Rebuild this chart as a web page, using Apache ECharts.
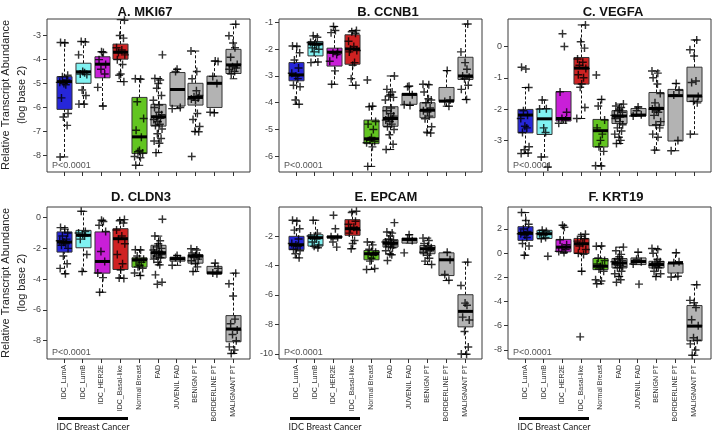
<!DOCTYPE html>
<html><head><meta charset="utf-8">
<script src="https://cdn.jsdelivr.net/npm/echarts@6/dist/echarts.min.js"></script>
<style>html,body{margin:0;padding:0;background:#fff}#c{width:713px;height:432px}</style>
</head><body><div id="c"></div>
<script>
// ---------- data ----------
const categories = ['IDC_LumA','IDC_LumB','IDC_HER2E','IDC_Basal-like','Normal Breast','FAD','JUVENIL FAD','BENIGN PT','BORDERLINE PT','MALIGNANT PT'];
const boxColors = ['#2626d9','#80f2f2','#c91fd8','#cf2222','#62c520','#b3b3b3','#b3b3b3','#b3b3b3','#b3b3b3','#b3b3b3'];
const panelTitles = ['A. MKI67','B. CCNB1','C. VEGFA','D. CLDN3','E. EPCAM','F. KRT19'];
const pValues = ['P<0.0001','P<0.0001','P<0.0001','P<0.0001','P<0.0001','P<0.0001'];
const yAxisTitle = ['Relative Transcript Abundance','(log base 2)'];
const groupLabel = 'IDC Breast Cancer';

// box stats: [lower whisker, Q1, median, Q3, upper whisker]
const mki67Box = [[-8.07,-6.08,-4.92,-4.71,-3.28],[-5.86,-4.99,-4.51,-4.15,-3.24],[-5.94,-4.76,-4.19,-3.88,-3.67],[-4.92,-3.98,-3.69,-3.35,-2.33],[-8.42,-7.93,-7.23,-5.58,-4.8],[-7.89,-6.78,-6.39,-5.87,-4.79],[-6.05,-5.94,-5.25,-4.54,-4.4],[-7.02,-5.9,-5.58,-4.99,-3.64],[-6.22,-6.0,-4.99,-4.69,-4.06],[-4.8,-4.58,-4.22,-3.57,-2.52]];
const mki67Points = [
 [-3.28,-3.3,-4.65,-4.72,-4.85,-4.95,-5.0,-5.05,-5.6,-6.25,-6.4,-6.75,-8.07],
 [-3.24,-3.26,-3.8,-4.5,-4.55,-4.6,-4.62,-5.27,-5.5,-5.86,-5.86],
 [-3.67,-3.7,-4.0,-4.2,-4.4,-4.6,-5.16,-5.94],
 [-2.35,-2.99,-3.1,-3.5,-3.6,-3.7,-3.8,-4.0,-4.2,-4.6,-4.65,-4.92],
 [-4.8,-4.82,-5.76,-6.46,-6.95,-7.25,-7.8,-7.85,-7.9,-8.05,-8.1,-8.42],
 [-3.8,-4.79,-4.85,-5.0,-5.2,-5.5,-5.7,-5.9,-6.0,-6.2,-6.3,-6.4,-6.45,-6.5,-6.6,-6.7,-6.75,-6.9,-7.1,-7.3,-7.4,-7.5,-7.89],
 [-4.4,-4.5,-6.0,-6.05],
 [-3.64,-4.5,-4.8,-5.3,-5.5,-5.55,-5.6,-5.65,-5.7,-6.25,-6.5,-6.8,-7.0,-7.02,-8.05],
 [-4.06,-4.08,-4.7,-5.0,-6.2,-6.22],
 [-2.52,-3.0,-3.3,-3.5,-3.9,-4.2,-4.3,-4.35,-4.4,-4.5,-4.6]];
const mki67Ticks = [-8,-7,-6,-5,-4,-3];

const ccnb1Box = [[-4.06,-3.18,-2.96,-2.5,-1.88],[-2.48,-2.25,-1.8,-1.71,-1.5],[-3.31,-2.63,-2.11,-1.96,-1.15],[-3.35,-2.56,-1.99,-1.46,-1.3],[-6.38,-5.53,-5.35,-4.65,-4.13],[-5.75,-4.88,-4.59,-4.15,-3.0],[-4.1,-4.06,-3.69,-3.65,-3.38],[-5.13,-4.56,-4.28,-4.0,-3.31],[-4.13,-3.96,-3.94,-3.43,-2.8],[-3.88,-3.13,-3.0,-2.3,-1.06]];
const ccnb1Points = [
 [-1.88,-1.9,-2.13,-2.4,-2.7,-2.9,-3.0,-3.1,-3.35,-3.4,-3.9,-4.06],
 [-1.5,-1.55,-1.75,-1.8,-1.85,-1.95,-2.0,-2.1,-2.48,-2.5],
 [-1.15,-1.3,-1.38,-2.1,-2.15,-2.2,-2.45,-2.81,-3.31],
 [-1.3,-1.35,-1.4,-1.7,-1.9,-2.0,-2.05,-2.1,-2.5,-2.6,-3.1,-3.35],
 [-3.15,-4.13,-4.15,-4.7,-4.8,-5.0,-5.3,-5.4,-5.45,-5.5,-5.65,-6.38],
 [-3.0,-3.5,-3.6,-3.7,-3.75,-3.8,-3.9,-4.2,-4.3,-4.4,-4.5,-4.55,-4.6,-4.65,-4.7,-4.8,-4.9,-5.0,-5.2,-5.55,-5.75],
 [-3.38,-3.4,-3.7,-4.08,-4.1],
 [-3.31,-3.33,-3.6,-3.85,-3.9,-4.0,-4.2,-4.3,-4.35,-4.5,-4.6,-4.9,-5.1,-5.13],
 [-2.8,-3.9,-3.95,-4.13],
 [-1.06,-2.1,-2.5,-2.75,-3.0,-3.05,-3.1,-3.35,-3.5,-3.88]];
const ccnb1Ticks = [-6,-5,-4,-3,-2,-1];

const vegfaBox = [[-3.42,-2.76,-2.19,-2.01,-1.31],[-3.53,-2.81,-2.31,-1.99,-1.71],[-2.45,-2.38,-2.3,-1.44,-1.44],[-2.3,-1.2,-0.69,-0.35,0.69],[-3.81,-3.21,-2.69,-2.33,-1.69],[-3.1,-2.46,-2.22,-2.05,-1.84],[-2.22,-2.22,-2.19,-1.98,-1.93],[-3.31,-2.53,-1.98,-1.47,-0.78],[-3.33,-3.02,-1.57,-1.37,-1.18],[-2.8,-1.76,-1.58,-0.66,0.21]];
const vegfaPoints = [
 [-0.66,-0.72,-1.31,-2.05,-2.2,-2.3,-2.55,-2.6,-2.75,-3.2,-3.3,-3.4,-3.42],
 [-1.71,-1.99,-2.0,-2.6,-2.75,-3.53,-3.85],
 [0.41,0.0,-1.45,-2.1,-2.3,-2.35,-2.45],
 [0.69,0.15,-0.05,-0.4,-0.5,-0.6,-0.7,-0.9,-1.0,-1.2,-1.3,-1.95,-2.3],
 [-0.91,-1.69,-1.9,-2.35,-2.6,-2.8,-3.0,-3.2,-3.35,-3.81,-3.82],
 [-1.84,-1.9,-1.95,-2.0,-2.05,-2.1,-2.2,-2.25,-2.3,-2.4,-2.5,-2.6,-2.7,-2.8,-2.9,-3.0,-3.1],
 [-1.93,-2.05,-2.18,-2.22],
 [-0.78,-0.85,-1.0,-1.2,-1.5,-1.8,-1.95,-2.0,-2.05,-2.1,-2.2,-2.4,-2.5,-2.6,-2.8,-2.9,-3.31],
 [-1.18,-1.4,-1.55,-3.0,-3.33],
 [0.21,-0.1,-0.3,-1.1,-1.15,-1.6,-1.75,-1.8,-2.8]];
const vegfaTicks = [-3,-2,-1,0];

const cldn3Box = [[-3.65,-2.24,-1.59,-0.93,-0.65],[-3.5,-1.96,-1.15,-0.83,0.41],[-4.85,-3.61,-2.85,-0.93,-0.17],[-3.93,-3.37,-1.37,-0.72,-0.13],[-3.76,-3.22,-2.74,-2.61,-2.09],[-3.07,-2.63,-2.28,-1.8,-1.2],[-3.1,-2.83,-2.67,-2.57,-2.46],[-3.5,-2.96,-2.5,-2.41,-2.02],[-3.65,-3.65,-3.59,-3.17,-2.96],[-8.83,-8.07,-7.24,-6.37,-3.61]];
const cldn3Points = [
 [-0.65,-0.75,-1.0,-1.2,-1.4,-1.5,-1.6,-1.7,-1.8,-2.0,-2.5,-3.0,-3.3,-3.65],
 [0.41,-0.9,-1.0,-1.1,-1.2,-1.4,-2.4,-3.5],
 [-0.17,-0.25,-0.5,-0.9,-2.2,-2.85,-3.6,-3.9,-4.85],
 [-0.13,-0.2,-0.35,-0.8,-1.2,-1.4,-1.7,-2.4,-3.0,-3.4,-3.93,-3.95],
 [-2.09,-2.1,-2.5,-2.7,-2.8,-2.9,-3.1,-3.2,-3.3,-3.6,-3.76],
 [-0.11,-1.2,-1.5,-1.7,-1.9,-2.0,-2.1,-2.2,-2.3,-2.35,-2.4,-2.5,-2.6,-2.7,-2.9,-3.07,-3.72,-4.2,-4.33],
 [-2.46,-2.6,-2.7,-3.1],
 [-2.02,-2.1,-2.3,-2.4,-2.5,-2.6,-2.7,-2.8,-3.0,-3.2,-3.5],
 [-2.96,-3.3,-3.6,-3.65],
 [-3.61,-4.3,-5.1,-6.6,-6.9,-7.3,-7.6,-8.0,-8.4,-8.6,-8.83]];
const cldn3Ticks = [-8,-6,-4,-2,0];

const epcamBox = [[-3.48,-2.93,-2.59,-2.02,-0.93],[-2.8,-2.68,-2.11,-1.91,-0.93],[-2.2,-2.12,-2.07,-2.0,-2.0],[-2.86,-1.95,-1.5,-0.89,-0.32],[-4.27,-3.61,-3.2,-2.98,-2.41],[-3.27,-2.75,-2.48,-2.25,-1.73],[-2.48,-2.48,-2.23,-2.14,-1.91],[-3.93,-3.2,-2.86,-2.64,-2.14],[-5.02,-4.68,-3.61,-3.14,-3.1],[-10.02,-8.16,-7.11,-5.98,-3.77]];
const epcamPoints = [
 [-0.93,-1.0,-1.5,-1.6,-2.2,-2.5,-2.6,-2.7,-2.9,-3.0,-3.2,-3.48],
 [-0.93,-1.8,-2.0,-2.1,-2.2,-2.4,-2.6,-2.7,-2.8],
 [-0.59,-1.5,-2.05,-2.1,-2.4,-2.75],
 [-0.32,-0.4,-1.0,-1.2,-1.4,-1.5,-1.6,-1.8,-2.3,-2.5,-2.86],
 [-2.41,-2.6,-2.9,-3.1,-3.2,-3.3,-3.5,-3.7,-4.2,-4.27],
 [-1.09,-1.73,-1.8,-2.0,-2.2,-2.3,-2.4,-2.45,-2.5,-2.55,-2.6,-2.7,-2.8,-3.0,-3.2,-3.27,-3.66],
 [-1.91,-2.2,-2.3,-3.14],
 [-2.14,-2.3,-2.5,-2.7,-2.8,-2.9,-3.0,-3.1,-3.3,-3.5,-3.7,-3.93],
 [-3.1,-3.6,-4.6,-5.0],
 [-3.77,-5.36,-6.55,-6.7,-7.5,-7.7,-8.48,-9.52,-10.0,-10.02]];
const epcamTicks = [-10,-8,-6,-4,-2];

const krt19Box = [[-0.17,1.06,1.64,2.19,3.36],[1.2,1.22,1.61,1.89,1.9],[0.0,0.11,0.5,1.14,2.31],[-1.5,-0.03,0.78,1.22,1.56],[-2.53,-1.36,-1.08,-0.44,0.58],[-1.92,-1.22,-0.81,-0.44,0.5],[-0.94,-0.94,-0.69,-0.39,0.08],[-1.92,-1.22,-0.94,-0.67,0.39],[-1.97,-1.64,-0.81,-0.81,0.03],[-8.44,-7.25,-6.03,-4.33,-2.61]];
const krt19Points = [
 [3.36,2.7,2.4,2.0,1.8,1.6,1.5,1.3,0.8,0.6,-0.17],
 [1.9,1.8,1.6,1.5,1.3,1.2,-0.25],
 [2.31,2.15,1.1,0.7,0.5,0.3,0.15,0.05],
 [1.56,1.4,1.2,1.0,0.8,0.6,0.3,0.0,-0.1,-1.5,-6.92],
 [0.58,0.6,-0.4,-0.6,-0.9,-1.0,-1.1,-1.3,-1.5,-2.2,-2.3,-2.53],
 [0.5,0.2,-0.1,-0.3,-0.5,-0.6,-0.7,-0.8,-0.9,-1.0,-1.1,-1.2,-1.5,-1.7,-1.92,-2.2,-2.4],
 [0.08,-0.5,-0.7,-0.9,-2.56],
 [0.39,0.3,0.0,-0.5,-0.7,-0.8,-0.9,-1.0,-1.1,-1.2,-1.5,-1.7,-1.92],
 [0.03,-0.7,-0.8,-1.9,-1.97],
 [-2.61,-3.9,-4.1,-4.5,-5.5,-6.0,-7.0,-7.2,-7.5,-8.0,-8.44]];
const krt19Ticks = [-8,-6,-4,-2,0,2];

// fixed horizontal jitter pattern (category units) for overlaid points
const JITTER = [-0.18,0.05,0.2,-0.08,0.14,-0.22,0.0,0.1,-0.13,0.22,-0.03,0.17,-0.2,0.08,-0.1,0.24,-0.16,0.12,0.02,-0.06,0.19,-0.24,0.07];

// ---------- layout ----------
const FONT = '"Liberation Sans", Arial, sans-serif';
const panels = [
 {box:mki67Box, pts:mki67Points, ticks:mki67Ticks, min:-8.70, max:-2.30, grid:{left:47,top:19,width:203,height:153}, tx:145, ty:12, bottom:false},
 {box:ccnb1Box, pts:ccnb1Points, ticks:ccnb1Ticks, min:-6.59, max:-0.87, grid:{left:279,top:19,width:203,height:153}, tx:388, ty:12, bottom:false},
 {box:vegfaBox, pts:vegfaPoints, ticks:vegfaTicks, min:-4.01, max:0.88, grid:{left:508,top:19,width:203,height:153}, tx:613, ty:12, bottom:false},
 {box:cldn3Box, pts:cldn3Points, ticks:cldn3Ticks, min:-9.19, max:0.69, grid:{left:47,top:207,width:203,height:152}, tx:141, ty:197, bottom:true},
 {box:epcamBox, pts:epcamPoints, ticks:epcamTicks, min:-10.34, max:-0.03, grid:{left:279,top:207,width:203,height:152}, tx:386, ty:197, bottom:true},
 {box:krt19Box, pts:krt19Points, ticks:krt19Ticks, min:-8.75, max:3.82, grid:{left:508,top:207,width:203,height:152}, tx:616, ty:197, bottom:true}
];
const catPos = categories.map((c,i)=>i+1);
const BOX_W = 0.8, STAPLE_W = 0.4;
const plusSymbol = 'path://M4.1,0H5.9V4.1H10V5.9H5.9V10H4.1V5.9H0V4.1H4.1Z';

function renderBox(params, api){
  const x = api.value(0);
  const lo = api.coord([x, api.value(1)]), q1 = api.coord([x, api.value(2)]),
        md = api.coord([x, api.value(3)]), q3 = api.coord([x, api.value(4)]),
        hi = api.coord([x, api.value(5)]);
  const half = api.size([BOX_W,0])[0]/2, sh = api.size([STAPLE_W,0])[0]/2;
  const color = boxColors[api.value(6)];
  const cx = Math.round(lo[0]) + 0.5;
  const dash = {stroke:'#111', lineWidth:1, lineDash:[3,2]};
  const solid = {stroke:'#111', lineWidth:1};
  return {type:'group', children:[
    {type:'line', shape:{x1:cx,y1:lo[1],x2:cx,y2:q1[1]}, style:dash},
    {type:'line', shape:{x1:cx,y1:q3[1],x2:cx,y2:hi[1]}, style:dash},
    {type:'line', shape:{x1:cx-sh,y1:lo[1],x2:cx+sh,y2:lo[1]}, style:solid},
    {type:'line', shape:{x1:cx-sh,y1:hi[1],x2:cx+sh,y2:hi[1]}, style:solid},
    {type:'rect', shape:{x:cx-half, y:q3[1], width:2*half, height:Math.max(q1[1]-q3[1],1)}, style:{fill:color, stroke:'#333', lineWidth:1}},
    {type:'line', shape:{x1:cx-half,y1:md[1],x2:cx+half,y2:md[1]}, style:{stroke:'#000', lineWidth:3}}
  ]};
}

const grid = [], xAxis = [], yAxis = [], series = [], graphic = [];
panels.forEach((p, i) => {
  grid.push(Object.assign({show:true, borderColor:'#3a3a3a', borderWidth:1, backgroundColor:'transparent'}, p.grid));
  xAxis.push({type:'value', gridIndex:i, min:0.1, max:10.9, position:'bottom',
    axisLine:{show:false, onZero:false}, splitLine:{show:false},
    axisTick:{show:true, customValues:catPos, length:4, lineStyle:{color:'#333'}},
    axisLabel:{show:p.bottom, customValues:catPos, rotate:90, fontSize:7, fontFamily:FONT, color:'#333', margin:6,
      formatter:v => categories[Math.round(v)-1] || ''}});
  yAxis.push({type:'value', gridIndex:i, min:p.min, max:p.max, position:'left',
    axisLine:{show:false, onZero:false}, splitLine:{show:false},
    axisTick:{show:true, customValues:p.ticks, length:4, lineStyle:{color:'#333'}},
    axisLabel:{customValues:p.ticks, fontSize:9, fontFamily:FONT, color:'#444', margin:6}});
  series.push({type:'custom', xAxisIndex:i, yAxisIndex:i, renderItem:renderBox, z:2,
    data:p.box.map((b,k)=>[k+1, b[0], b[1], b[2], b[3], b[4], k])});
  const pts = [];
  p.pts.forEach((arr,k)=>arr.forEach((v,j)=>pts.push([k+1+JITTER[(j+k*3)%JITTER.length], v])));
  series.push({type:'scatter', xAxisIndex:i, yAxisIndex:i, symbol:plusSymbol, symbolSize:8, z:5,
    itemStyle:{color:'#000'}, silent:true, data:pts});
  graphic.push({type:'text', x:p.tx, y:p.ty, style:{text:panelTitles[i], fontSize:13, fontWeight:'bold', fontFamily:FONT, fill:'#111', textAlign:'center', textVerticalAlign:'middle'}});
  graphic.push({type:'text', x:p.grid.left+5, y:p.grid.top+p.grid.height-6, style:{text:pValues[i], fontSize:9, fontFamily:FONT, fill:'#555', textAlign:'left', textVerticalAlign:'middle'}});
  if (p.bottom) {
    graphic.push({type:'rect', shape:{x:p.grid.left+11, y:417, width:70, height:3}, style:{fill:'#000'}});
    graphic.push({type:'text', x:p.grid.left+46, y:427, style:{text:groupLabel, fontSize:9, fontFamily:'Lato, "Open Sans", sans-serif', fill:'#222', textAlign:'center', textVerticalAlign:'middle'}});
  }
});
[95, 283].forEach(cy => {
  graphic.push({type:'text', x:6, y:cy, rotation:Math.PI/2, style:{text:yAxisTitle[0], fontSize:11, fontFamily:FONT, fill:'#222', textAlign:'center', textVerticalAlign:'middle'}});
  graphic.push({type:'text', x:22, y:cy, rotation:Math.PI/2, style:{text:yAxisTitle[1], fontSize:11, fontFamily:FONT, fill:'#222', textAlign:'center', textVerticalAlign:'middle'}});
});

const chart = echarts.init(document.getElementById('c'), null, {renderer:'canvas'});
chart.setOption({animation:false, backgroundColor:'#fff', grid, xAxis, yAxis, series, graphic});
</script></body></html>
